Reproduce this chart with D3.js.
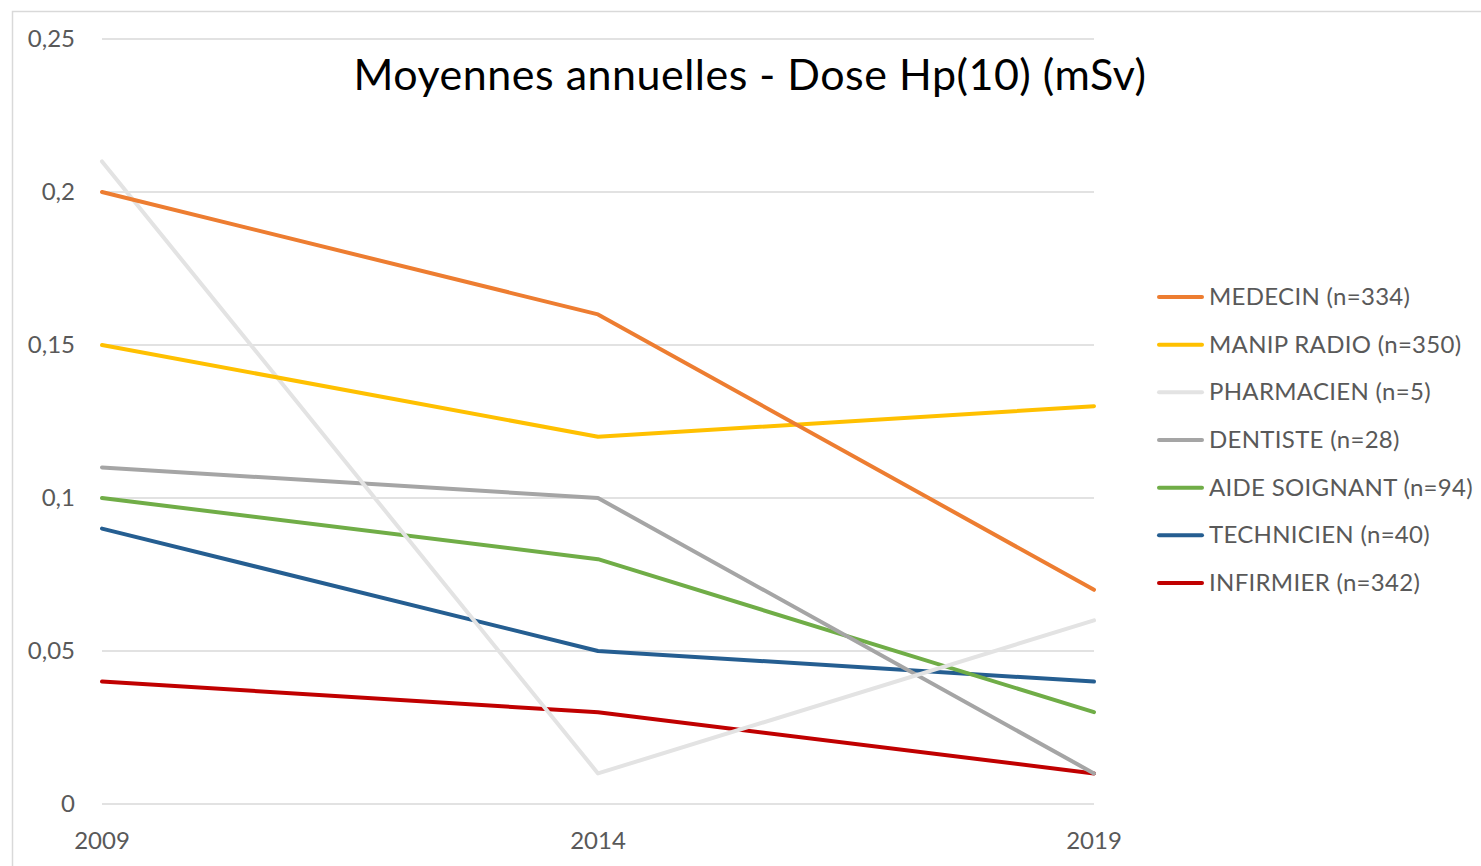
<!DOCTYPE html>
<html>
<head>
<meta charset="utf-8">
<script src="https://cdn.jsdelivr.net/npm/d3@7"></script>
<style>
  body { margin: 0; background: #fff; }
  svg { display: block; }
</style>
</head>
<body>
<div id="chart"></div>
<script>
// Annual averages, Hp(10) dose (mSv)
const years = ['2009', '2014', '2019'];
const seriesNames = [
  'MEDECIN (n=334)', 'MANIP RADIO (n=350)', 'PHARMACIEN (n=5)', 'DENTISTE (n=28)',
  'AIDE SOIGNANT (n=94)', 'TECHNICIEN (n=40)', 'INFIRMIER (n=342)'
];
const medecin = [0.20, 0.16, 0.07];
const manipRadio = [0.15, 0.12, 0.13];
const pharmacien = [0.21, 0.01, 0.06];
const dentiste = [0.11, 0.10, 0.01];
const aideSoignant = [0.10, 0.08, 0.03];
const technicien = [0.09, 0.05, 0.04];
const infirmier = [0.04, 0.03, 0.01];
const yTicks = [0, 0.05, 0.1, 0.15, 0.2, 0.25];

const colors = ['#ED7D31', '#FFC000', '#E3E3E3', '#A5A5A5', '#70AD47', '#255E91', '#C00000'];
const values = [medecin, manipRadio, pharmacien, dentiste, aideSoignant, technicien, infirmier];

const W = 1481, H = 866;
const margin = { top: 39, right: 387, bottom: 62, left: 102 };
const FONT = 'Lato, "Open Sans", sans-serif';

const svg = d3.select('#chart').append('svg')
  .attr('width', W)
  .attr('height', H);

// chart area frame (cut off at right/bottom)
svg.append('path')
  .attr('d', `M12.5,${H} L12.5,11.5 L${W},11.5`)
  .attr('fill', 'none')
  .attr('stroke', '#D9D9D9')
  .attr('stroke-width', 1.5);

const x = d3.scalePoint()
  .domain(years)
  .range([margin.left, W - margin.right]);

const y = d3.scaleLinear()
  .domain([0, 0.25])
  .range([H - margin.bottom, margin.top]);

const fmt = v => String(v).replace('.', ',');

// gridlines
svg.append('g')
  .selectAll('line')
  .data(yTicks)
  .join('line')
  .attr('x1', margin.left).attr('x2', W - margin.right)
  .attr('y1', d => y(d)).attr('y2', d => y(d))
  .attr('stroke', '#D9D9D9')
  .attr('stroke-width', 1.3);

// y labels
svg.append('g')
  .selectAll('text')
  .data(yTicks)
  .join('text')
  .attr('x', 75)
  .attr('y', d => y(d) + 8)
  .attr('text-anchor', 'end')
  .style('font-family', FONT)
  .style('font-size', '24px')
  .style('fill', '#595959')
  .text(fmt);

// x labels
svg.append('g')
  .selectAll('text')
  .data(years)
  .join('text')
  .attr('x', d => x(d))
  .attr('y', H - margin.bottom + 45)
  .attr('text-anchor', 'middle')
  .style('font-family', FONT)
  .style('font-size', '24px')
  .style('fill', '#595959')
  .text(d => d);

// title
svg.append('text')
  .attr('x', 750)
  .attr('y', 90)
  .attr('text-anchor', 'middle')
  .style('font-family', FONT)
  .style('font-size', '43px')
  .style('letter-spacing', '0.5px')
  .style('fill', '#000')
  .text('Moyennes annuelles - Dose Hp(10) (mSv)');

// lines
const line = d3.line()
  .x((d, i) => x(years[i]))
  .y(d => y(d));

// draw in reverse so MEDECIN ends on top
const order = d3.range(values.length).reverse();
svg.append('g')
  .selectAll('path')
  .data(order)
  .join('path')
  .attr('d', i => line(values[i]))
  .attr('fill', 'none')
  .attr('stroke', i => colors[i])
  .attr('stroke-width', 4)
  .attr('stroke-linejoin', 'round')
  .attr('stroke-linecap', 'round');

// legend
const legend = svg.append('g');
const legY = d3.scalePoint()
  .domain(seriesNames)
  .range([297, 583]);

seriesNames.forEach((name, i) => {
  const ly = legY(name);
  legend.append('line')
    .attr('x1', 1159).attr('x2', 1202)
    .attr('y1', ly).attr('y2', ly)
    .attr('stroke', colors[i])
    .attr('stroke-width', 4)
    .attr('stroke-linecap', 'round');
  legend.append('text')
    .attr('x', 1209)
    .attr('y', ly + 8)
    .style('font-family', FONT)
    .style('font-size', '24px')
    .style('letter-spacing', '0.3px')
    .style('fill', '#595959')
    .text(name);
});
</script>
</body>
</html>
